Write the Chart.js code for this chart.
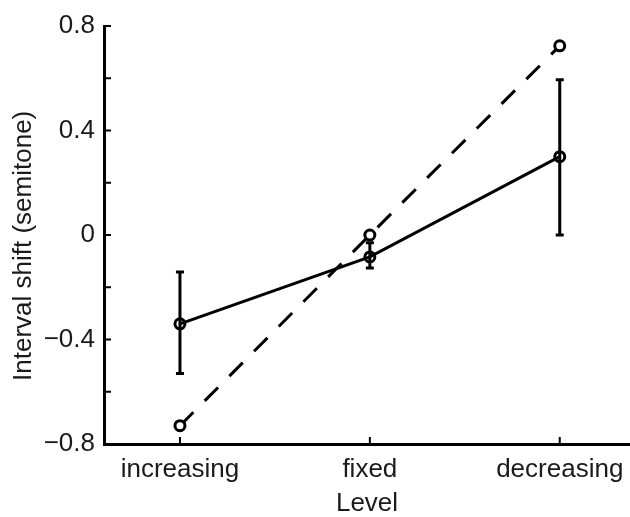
<!DOCTYPE html>
<html>
<head>
<meta charset="utf-8">
<script src="https://cdn.jsdelivr.net/npm/chart.js@4.4.1/dist/chart.umd.min.js"></script>
<style>
  html, body { margin: 0; padding: 0; background: #fff; }
  #wrap { width: 630px; height: 517px; }
</style>
</head>
<body>
<div id="wrap"><canvas id="chart" width="630" height="517"></canvas></div>
<script>
// data
const levels = ['increasing', 'fixed', 'decreasing'];
const meanShift = [-0.34, -0.084, 0.30];
const errLow = [-0.53, -0.126, 0.0];
const errHigh = [-0.142, -0.03, 0.594];
const predicted = [-0.73, 0.0, 0.724];
const yLabels = [-0.8, -0.4, 0, 0.4, 0.8];

const fontFamily = '"Liberation Sans", Arial, Helvetica, sans-serif';
const ink = '#1a1a1a';

// vertical error bars on the measured series
const errorBars = {
  id: 'errorBars',
  afterDatasetsDraw(chart) {
    const xs = chart.scales.x, ys = chart.scales.y;
    const ctx = chart.ctx;
    ctx.save();
    ctx.strokeStyle = '#000';
    ctx.lineWidth = 3;
    levels.forEach((l, i) => {
      const x = xs.getPixelForValue(i);
      const lo = ys.getPixelForValue(errLow[i]);
      const hi = ys.getPixelForValue(errHigh[i]);
      ctx.beginPath();
      ctx.moveTo(x, lo); ctx.lineTo(x, hi);
      ctx.moveTo(x - 4, lo); ctx.lineTo(x + 4, lo);
      ctx.moveTo(x - 4, hi); ctx.lineTo(x + 4, hi);
      ctx.stroke();
    });
    ctx.restore();
  }
};

// small tick marks pointing into the plot
const innerTicks = {
  id: 'innerTicks',
  afterDraw(chart) {
    const xs = chart.scales.x, ys = chart.scales.y;
    const area = chart.chartArea;
    const ctx = chart.ctx;
    ctx.save();
    ctx.strokeStyle = '#000';
    ctx.lineWidth = 2;
    ctx.beginPath();
    ys.ticks.forEach(t => {
      const y = ys.getPixelForValue(t.value);
      ctx.moveTo(area.left, y); ctx.lineTo(area.left + 7, y);
    });
    levels.forEach((l, i) => {
      const x = xs.getPixelForValue(i);
      ctx.moveTo(x, area.bottom); ctx.lineTo(x, area.bottom - 7);
    });
    ctx.stroke();
    ctx.restore();
  }
};

new Chart(document.getElementById('chart'), {
  type: 'line',
  data: {
    datasets: [
      {
        label: 'measured',
        data: meanShift.map((v, i) => ({ x: i, y: v })),
        borderColor: '#000',
        borderWidth: 3,
        pointRadius: 5,
        pointBorderWidth: 3,
        pointBorderColor: '#000',
        pointBackgroundColor: 'rgba(0,0,0,0)'
      },
      {
        label: 'predicted',
        data: predicted.map((v, i) => ({ x: i, y: v })),
        borderColor: '#000',
        borderWidth: 3,
        borderDash: [19, 16],
        pointRadius: 5,
        pointBorderWidth: 3,
        pointBorderColor: '#000',
        pointBackgroundColor: '#fff'
      }
    ]
  },
  options: {
    responsive: false,
    animation: false,
    layout: { autoPadding: false, padding: { top: 26, right: 0, bottom: 0, left: 0 } },
    plugins: { legend: { display: false }, tooltip: { enabled: false } },
    scales: {
      x: {
        type: 'linear',
        min: -0.4,
        max: 2.37,
        afterBuildTicks: s => { s.ticks = levels.map((l, i) => ({ value: i })); },
        afterFit: s => { s.height = 73; s.paddingLeft = 0; s.paddingRight = 0; },
        grid: { display: false, drawTicks: false },
        border: { display: true, color: '#000', width: 3 },
        ticks: {
          padding: 10,
          color: ink,
          font: { family: fontFamily, size: 26 },
          callback: v => levels[v]
        },
        title: {
          display: true,
          text: 'Level',
          color: ink,
          padding: { top: 0, bottom: -2 },
          font: { family: fontFamily, size: 26 }
        }
      },
      y: {
        min: -0.8,
        max: 0.8,
        afterBuildTicks: s => {
          s.ticks = [-0.8, -0.6, -0.4, -0.2, 0, 0.2, 0.4, 0.6, 0.8].map(v => ({ value: v }));
        },
        afterFit: s => { s.width = 104; },
        grid: { display: false, drawTicks: false },
        border: { display: true, color: '#000', width: 3 },
        ticks: {
          padding: 9,
          color: ink,
          font: { family: fontFamily, size: 26 },
          autoSkip: false,
          callback: v => {
            const hit = yLabels.find(t => Math.abs(t - v) < 1e-6);
            if (hit === undefined) return '';
            return hit === 0 ? '0' : (hit < 0 ? '\u2212' + Math.abs(hit).toFixed(1) : hit.toFixed(1));
          }
        },
        title: {
          display: true,
          // trailing spaces nudge the centred label a little lower, as in the original
          text: 'Interval shift (semitone)   ',
          color: ink,
          padding: { top: 8, bottom: 0 },
          font: { family: fontFamily, size: 26 }
        }
      }
    }
  },
  plugins: [errorBars, innerTicks]
});
</script>
</body>
</html>
